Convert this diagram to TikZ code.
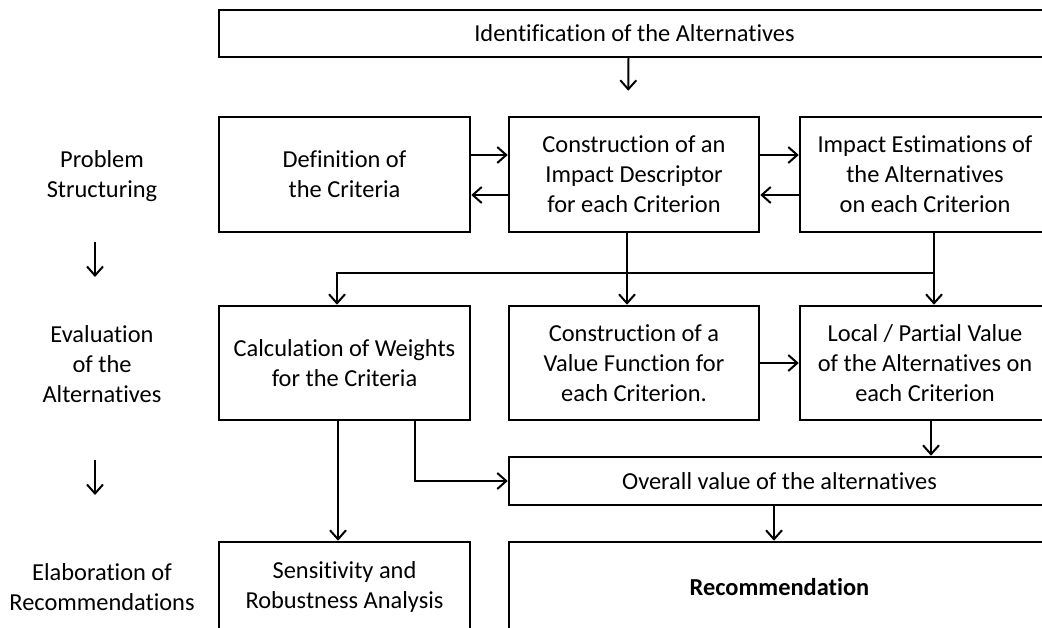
\documentclass[tikz,border=0pt]{standalone}
\usepackage{fontspec}
\setmainfont{Carlito}[Ligatures=NoCommon]
\usetikzlibrary{arrows.meta}

\begin{document}
\begin{tikzpicture}[x=1pt,y=-1pt,
   box/.style={draw,line width=2.5pt,inner sep=0pt,align=center},
   arr/.style={-{Straight Barb[length=9pt,width=16pt]},line width=2pt},
   lbl/.style={align=center}]
   \useasboundingbox (0,0) rectangle (1042,628);
   \clip (0,0) rectangle (1042,628);
   \fontsize{24.4}{30}\selectfont
   \node[box,minimum width=831pt,minimum height=47pt] (ident) at (634.5,33.5) {Identification of the Alternatives};
   \node[box,minimum width=251pt,minimum height=115pt] (def) at (344.5,174.5) {Definition of\\the Criteria};
   \node[box,minimum width=250pt,minimum height=115pt] (cons) at (634,174.5) {Construction of an\\Impact Descriptor\\for each Criterion};
   \node[box,minimum width=250pt,minimum height=115pt] (impact) at (925,174.5) {Impact Estimations of\\the Alternatives\\on each Criterion};
   \node[box,minimum width=251pt,minimum height=114pt] (calc) at (344.5,363) {Calculation of Weights\\for the Criteria};
   \node[box,minimum width=250pt,minimum height=114pt] (value) at (634,363) {Construction of a\\Value Function for\\each Criterion.};
   \node[box,minimum width=250pt,minimum height=114pt] (local) at (925,363) {Local / Partial Value\\of the Alternatives on\\each Criterion};
   \node[box,minimum width=541pt,minimum height=48pt] (overall) at (779.5,481) {Overall value of the alternatives};
   \node[box,minimum width=251pt,minimum height=90pt] (sens) at (344.5,587) {Sensitivity and\\Robustness Analysis};
   \node[box,minimum width=541pt,minimum height=90pt] (rec) at (779.5,587) {\bfseries Recommendation};

   \node[lbl] (ps) at (102,176) {Problem\\Structuring};
   \node[lbl] (ea) at (102,364) {Evaluation\\of the\\Alternatives};
   \node[lbl] (er) at (102,587) {Elaboration of\\Recommendations};
   \coordinate (s1) at (95,242);
   \coordinate (e1) at (95,277);
   \coordinate (s2) at (95,460);
   \coordinate (e2) at (95,495);
   \coordinate (bus) at (0,273);

   \draw[arr] (s1) -- (e1);
   \draw[arr] (s2) -- (e2);
   \draw[arr,shorten >=25pt] ([xshift=-6pt]ident.south) -- ([xshift=-6pt]cons.north);
   \draw[arr] ([yshift=19.5pt]def.east) -- ([yshift=19.5pt]cons.west);
   \draw[arr] ([yshift=-20.5pt]cons.west) -- ([yshift=-20.5pt]def.east);
   \draw[arr] ([yshift=19.5pt]cons.east) -- ([yshift=19.5pt]impact.west);
   \draw[arr] ([yshift=-20.5pt]impact.west) -- ([yshift=-20.5pt]cons.east);
   \draw[arr] ([xshift=-7pt]cons.south) -- ([xshift=-7pt]value.north);
   \draw[arr] ([xshift=9pt]impact.south) -- ([xshift=9pt]local.north);
   \draw[arr] ([xshift=9pt]impact.south |- bus) -| ([xshift=-7.5pt]calc.north);
   \draw[arr] (value.east) -- (local.west);
   \draw[arr] ([xshift=6pt]local.south) -- ([xshift=6pt]local.south |- overall.north);
   \draw[arr] ([xshift=-6.5pt]calc.south) -- ([xshift=-6.5pt]sens.north);
   \draw[arr] ([xshift=70.5pt]calc.south) |- (overall.west);
   \draw[arr] ([xshift=-5.5pt]overall.south) -- ([xshift=-5.5pt]rec.north);
\end{tikzpicture}
\end{document}
